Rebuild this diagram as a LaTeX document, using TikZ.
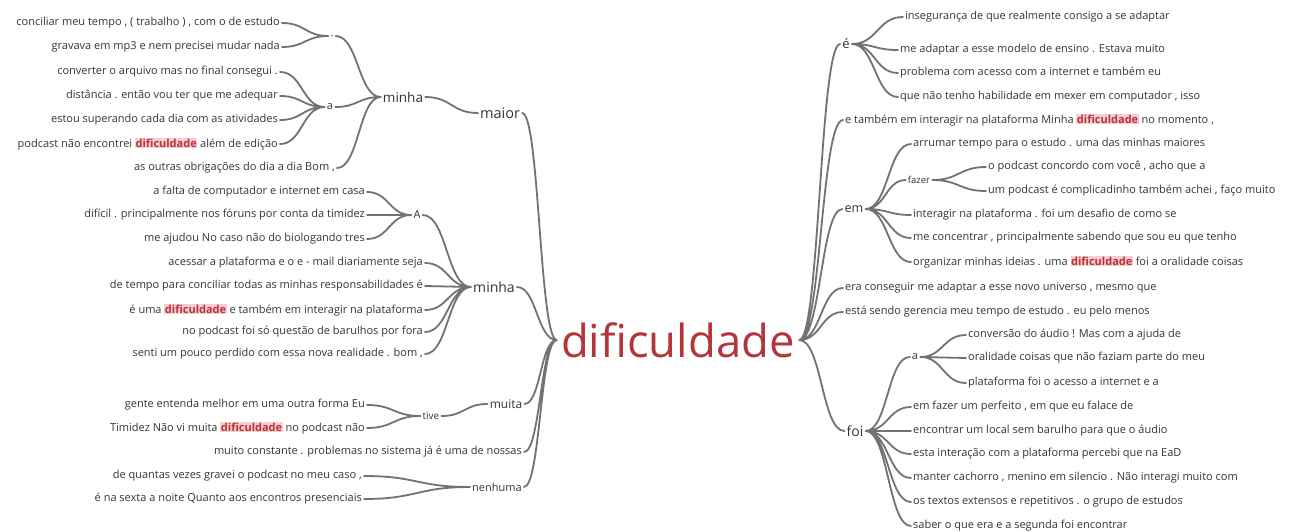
\documentclass[tikz,border=0pt]{standalone}
\usepackage{fontspec}
\setmainfont{Open Sans}
\usetikzlibrary{calc}

\definecolor{wtline}{HTML}{727272}
\definecolor{wttext}{HTML}{353535}
\definecolor{wtred}{HTML}{B3363C}
\definecolor{wtpink}{HTML}{F7CDD0}
\newcommand{\hlword}[1]{{\setlength{\fboxsep}{0.5pt}\colorbox{wtpink}{\textcolor{wtred}{\bfseries #1}}}}

\begin{document}
\begin{tikzpicture}[x=1pt,y=-1pt,
  txt/.style={font=\fontsize{11}{12}\selectfont, text=wttext, inner sep=2pt},
  lt/.style={txt, anchor=east},
  rt/.style={txt, anchor=west},
  word/.style={font=\fontsize{#1}{#1}\selectfont, text=wttext, inner sep=2pt},
  wt/.style={to path={let \p1=(\tikztostart), \p2=(\tikztotarget) in
    .. controls ({0.5*\x1+0.5*\x2},\y1) and ({0.5*\x1+0.5*\x2},\y2) .. (\tikztotarget)}},
  link/.style={draw=wtline, line width=1.8pt, line cap=round, wt}]

  \useasboundingbox[fill=white] (0,0) rectangle (1293,532);

  % centre word
  \node[font=\fontsize{45.5}{46}\selectfont, text=wtred, inner sep=4pt] (dif) at (678,340) {dificuldade};

  % left: minha maior
  \node[lt] (l1) at (282,23) {conciliar meu tempo , ( trabalho ) , com o de estudo};
  \node[lt] (l2) at (282,47) {gravava em mp3 e nem precisei mudar nada};
  \node[word=11] (dot) at (332,36) {.};
  \node[lt] (l3) at (280,72) {converter o arquivo mas no final consegui .};
  \node[lt] (l4) at (280,96) {distância . então vou ter que me adequar};
  \node[lt] (l5) at (280,120) {estou superando cada dia com as atividades};
  \node[lt] (l6) at (280,144) {podcast não encontrei \hlword{dificuldade} além de edição};
  \node[word=11] (aleft) at (330,107) {a};
  \node[lt] (l7) at (337,168) {as outras obrigações do dia a dia Bom ,};
  \node[word=13.5] (minha1) at (403,97) {minha};
  \node[word=14.5] (maior) at (500,113) {maior};

  % left: A / minha
  \node[lt] (l8) at (367,192) {a falta de computador e internet em casa};
  \node[lt] (l9) at (367,215) {difícil . principalmente nos fóruns por conta da timidez};
  \node[lt] (l10) at (367,239) {me ajudou No caso não do biologando tres};
  \node[word=11] (acap) at (417,215) {A};
  \node[lt] (l11) at (425,263) {acessar a plataforma e o e - mail diariamente seja};
  \node[lt] (l12) at (425,286) {de tempo para conciliar todas as minhas responsabilidades é};
  \node[lt] (l13) at (425,310) {é uma \hlword{dificuldade} e também em interagir na plataforma};
  \node[lt] (l14) at (425,332) {no podcast foi só questão de barulhos por fora};
  \node[lt] (l15) at (425,354) {senti um pouco perdido com essa nova realidade . bom ,};
  \node[word=14] (minha2) at (494,287) {minha};

  % left: tive muita, nenhuma
  \node[lt] (l16) at (367,405) {gente entenda melhor em uma outra forma Eu};
  \node[lt] (l17) at (367,428) {Timidez Não vi muita \hlword{dificuldade} no podcast não};
  \node[word=10] (tive) at (431,416) {tive};
  \node[word=12] (muita) at (506,404) {muita};
  \node[lt] (l18) at (524,452) {muito constante . problemas no sistema já é uma de nossas};
  \node[lt] (l19) at (364,476) {de quantas vezes gravei o podcast no meu caso ,};
  \node[lt] (l20) at (364,499) {é na sexta a noite Quanto aos encontros presenciais};
  \node[word=11] (nenhuma) at (497,487) {nenhuma};

  % right: é
  \node[word=13] (eacc) at (846,44) {é};
  \node[rt] (r1) at (903,17) {insegurança de que realmente consigo a se adaptar};
  \node[rt] (r2) at (898,50) {me adaptar a esse modelo de ensino . Estava muito};
  \node[rt] (r3) at (898,73) {problema com acesso com a internet e também eu};
  \node[rt] (r4) at (898,97) {que não tenho habilidade em mexer em computador , isso};
  \node[rt] (r5) at (843,120) {e também em interagir na plataforma Minha \hlword{dificuldade} no momento ,};

  % right: em
  \node[word=12.5] (em) at (854,209) {em};
  \node[rt] (r6) at (911,144) {arrumar tempo para o estudo . uma das minhas maiores};
  \node[word=9.5] (fazer) at (919,180) {fazer};
  \node[rt] (r7) at (986,167) {o podcast concordo com você , acho que a};
  \node[rt] (r8) at (986,191) {um podcast é complicadinho também achei , faço muito};
  \node[rt] (r9) at (911,215) {interagir na plataforma . foi um desafio de como se};
  \node[rt] (r10) at (911,238) {me concentrar , principalmente sabendo que sou eu que tenho};
  \node[rt] (r11) at (911,262) {organizar minhas ideias . uma \hlword{dificuldade} foi a oralidade coisas};
  \node[rt] (r12) at (843,288) {era conseguir me adaptar a esse novo universo , mesmo que};
  \node[rt] (r13) at (843,312) {está sendo gerencia meu tempo de estudo . eu pelo menos};

  % right: foi
  \node[word=14] (foi) at (855,431) {foi};
  \node[word=11] (aright) at (915,357) {a};
  \node[rt] (r14) at (966,335) {conversão do áudio ! Mas com a ajuda de};
  \node[rt] (r15) at (966,358) {oralidade coisas que não faziam parte do meu};
  \node[rt] (r16) at (966,383) {plataforma foi o acesso a internet e a};
  \node[rt] (r17) at (911,407) {em fazer um perfeito , em que eu falace de};
  \node[rt] (r18) at (911,431) {encontrar um local sem barulho para que o áudio};
  \node[rt] (r19) at (911,454) {esta interação com a plataforma percebi que na EaD};
  \node[rt] (r20) at (911,478) {manter cachorro , menino em silencio . Não interagi muito com};
  \node[rt] (r21) at (911,502) {os textos extensos e repetitivos . o grupo de estudos};
  \node[rt] (r22) at (911,526) {saber o que era e a segunda foi encontrar};

  % left links
  \draw[link] (l1.east) to (dot.west) (l2.east) to (dot.west);
  \draw[link] (l3.east) to (aleft.west) (l4.east) to (aleft.west)
    (l5.east) to (aleft.west) (l6.east) to (aleft.west);
  \draw[link] (dot.east) to (minha1.west) (aleft.east) to (minha1.west)
    (l7.east) to (minha1.west);
  \draw[link] (minha1.east) to (maior.west);
  \draw[link] (l8.east) to (acap.west) (l9.east) to (acap.west) (l10.east) to (acap.west);
  \draw[link] (acap.east) to (minha2.west) (l11.east) to (minha2.west)
    (l12.east) to (minha2.west) (l13.east) to (minha2.west)
    (l14.east) to (minha2.west) (l15.east) to (minha2.west);
  \draw[link] (l16.east) to (tive.west) (l17.east) to (tive.west);
  \draw[link] (tive.east) to (muita.west);
  \draw[link] (l19.east) to (nenhuma.west) (l20.east) to (nenhuma.west);
  \draw[link] (maior.east) to (dif.west) (minha2.east) to (dif.west)
    (muita.east) to (dif.west) (l18.east) to (dif.west) (nenhuma.east) to (dif.west);

  % right links
  \draw[link] (dif.east) to (eacc.west) (dif.east) to (r5.west) (dif.east) to (em.west)
    (dif.east) to (r12.west) (dif.east) to (r13.west) (dif.east) to (foi.west);
  \draw[link] (eacc.east) to (r1.west) (eacc.east) to (r2.west)
    (eacc.east) to (r3.west) (eacc.east) to (r4.west);
  \draw[link] (em.east) to (r6.west) (em.east) to (fazer.west) (em.east) to (r9.west)
    (em.east) to (r10.west) (em.east) to (r11.west);
  \draw[link] (fazer.east) to (r7.west) (fazer.east) to (r8.west);
  \draw[link] (foi.east) to (aright.west) (foi.east) to (r17.west) (foi.east) to (r18.west)
    (foi.east) to (r19.west) (foi.east) to (r20.west) (foi.east) to (r21.west)
    (foi.east) to (r22.west);
  \draw[link] (aright.east) to (r14.west) (aright.east) to (r15.west) (aright.east) to (r16.west);
\end{tikzpicture}
\end{document}
